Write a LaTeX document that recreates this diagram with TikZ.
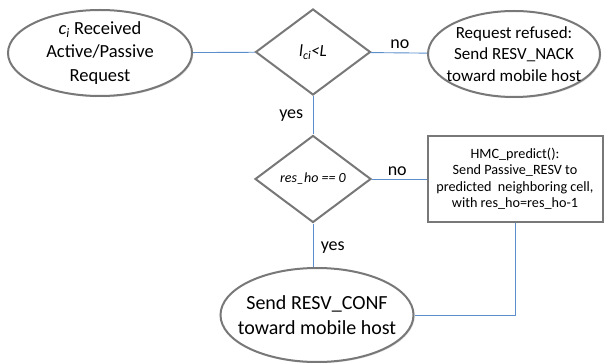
\documentclass[tikz,border=0pt]{standalone}
\usepackage{fontspec}
\setmainfont{Carlito}
\usepackage{tikz}
\usetikzlibrary{shapes.geometric, shadows}

\definecolor{linkblue}{RGB}{91,142,204}
\definecolor{edgegray}{RGB}{120,120,120}

\tikzset{
  shade/.style={drop shadow={opacity=0.25, shadow xshift=1.2pt, shadow yshift=-1.2pt}},
  endbox/.style={ellipse, draw=edgegray, line width=2pt, fill=white, shade, align=center, inner sep=0pt},
  testbox/.style={diamond, draw=edgegray, line width=2pt, fill=white, align=center, inner sep=0pt},
  actbox/.style={rectangle, draw=edgegray, line width=2pt, fill=white, shade, align=center, inner xsep=0pt, inner ysep=2pt},
  link/.style={draw=linkblue, line width=0.9pt},
  lbl/.style={font=\fontsize{18}{20}\selectfont}
}

\begin{document}
\begin{tikzpicture}[x=1pt, y=-1pt]
  \useasboundingbox (0,0) rectangle (612,363);

  % nodes
  \node[endbox, inner ysep=-4pt, minimum width=184, minimum height=86, font=\fontsize{18.5}{23.5}\selectfont] (request) at (100,53)
    {{\itshape c\textsubscript{i}} Received\\Active/Passive\\Request};
  \node[testbox, minimum width=115, minimum height=86, font=\fontsize{17}{19}\selectfont] (check) at (313,52)
    {\itshape l\textsubscript{ci}<L};
  \node[endbox, inner xsep=-7pt, inner ysep=-3pt, minimum width=172, minimum height=86, font=\fontsize{17}{21.5}\selectfont] (refused) at (514,54)
    {Request refused:\\Send RESV\_NACK\\toward mobile host};
  \node[testbox, minimum width=116, minimum height=87, font=\fontsize{14}{16}\selectfont] (resho) at (313,179)
    {\itshape res\_ho == 0};
  \node[actbox, minimum width=175, minimum height=86, font=\fontsize{14.2}{16.5}\selectfont] (predict) at (515,179)
    {HMC\_predict():\\Send Passive\_RESV to\\predicted\ \ neighboring cell,\\with res\_ho=res\_ho-1};
  \node[endbox, inner xsep=-11pt, inner ysep=4pt, minimum width=193, minimum height=94, font=\fontsize{20}{24.5}\selectfont] (conf) at (317,315)
    {Send RESV\_CONF\\toward mobile host};

  % connectors
  \draw[link] (request) -- (check);
  \draw[link] (check) -- node[lbl, above, xshift=1pt] {no} (refused);
  \draw[link] (check) -- node[lbl, left, xshift=-6pt] {yes} (resho);
  \draw[link] (resho) -- node[lbl, above, xshift=-2pt] {no} (predict);
  \draw[link] (resho.south) -- node[lbl, right, xshift=4pt, yshift=-2pt] {yes} (resho.south |- conf.north);
  \draw[link] (predict.south) |- (conf.east);
\end{tikzpicture}
\end{document}
